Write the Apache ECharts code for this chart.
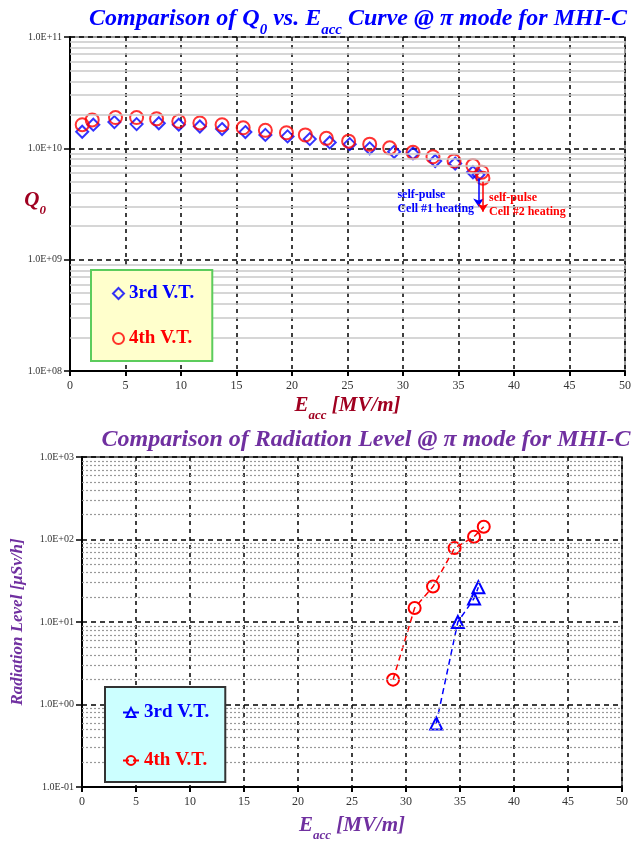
<!DOCTYPE html>
<html>
<head>
<meta charset="utf-8">
<script src="https://cdn.jsdelivr.net/npm/echarts@6/dist/echarts.min.js"></script>
<style>
  html, body { margin: 0; padding: 0; background: #fff; }
  #main { width: 643px; height: 843px; }
</style>
</head>
<body>
<div id="main"></div>
<script>
// Q0 vs Eacc  (3rd / 4th vertical test)
var eQ3 = [1.1, 2.1, 4.0, 6.0, 8.0, 9.8, 11.7, 13.7, 15.8, 17.6, 19.6, 21.6, 23.4, 25.2, 27.0, 29.2, 30.9, 32.9, 34.7, 36.3, 36.8];
var q3 = [1.41e10, 1.63e10, 1.72e10, 1.65e10, 1.68e10, 1.63e10, 1.57e10, 1.49e10, 1.40e10, 1.32e10, 1.28e10, 1.21e10, 1.13e10, 1.09e10, 1.00e10, 9.3e9, 9.0e9, 7.7e9, 7.3e9, 6.1e9, 5.8e9];
var eQ4 = [1.1, 2.0, 4.1, 6.0, 7.8, 9.8, 11.7, 13.7, 15.6, 17.6, 19.5, 21.2, 23.1, 25.1, 27.0, 28.8, 30.9, 32.7, 34.6, 36.3, 37.1, 37.2];
var q4 = [1.63e10, 1.80e10, 1.89e10, 1.89e10, 1.84e10, 1.75e10, 1.69e10, 1.63e10, 1.53e10, 1.45e10, 1.38e10, 1.32e10, 1.23e10, 1.16e10, 1.09e10, 1.01e10, 9.2e9, 8.4e9, 7.7e9, 7.0e9, 6.1e9, 5.4e9];

// radiation level vs Eacc
var eR3 = [32.8, 34.8, 36.3, 36.7];
var r3 = [0.59, 10.0, 19.3, 26.4];
var eR4 = [28.8, 30.8, 32.5, 34.5, 36.3, 37.2];
var r4 = [2.0, 14.8, 26.9, 78.7, 108, 143];

// axis ranges
var xTicks = [0, 50, 5];
var qRange = [1e8, 1e11];
var rRange = [1e-1, 1e3];
var minorSteps = [2, 3, 4, 5, 6, 7, 8, 9];

var serif = 'Liberation Serif';
var blue = '#0000ff', red = '#ff0000', darkRed = '#a00020', purple = '#7030a0';

function pairs(xs, ys) {
    return xs.map(function (x, i) { return [x, ys[i]]; });
}
function fmtE(v) {
    var e = Math.round(Math.log10(v));
    var a = Math.abs(e);
    return '1.0E' + (e < 0 ? '-' : '+') + (a < 10 ? '0' : '') + a;
}
function minorLines(range) {
    var out = [];
    for (var d = range[0]; d < range[1] * 0.99; d *= 10) {
        minorSteps.forEach(function (m) { out.push({ yAxis: d * m }); });
    }
    return out;
}

var chart = echarts.init(document.getElementById('main'));

function xAxisCfg(gi, nameColor, gap) {
    return {
        type: 'value', gridIndex: gi,
        min: xTicks[0], max: xTicks[1], interval: xTicks[2],
        name: '{m|E}{s|acc}{m| [MV/m]}',
        nameLocation: 'middle', nameGap: gap,
        nameTextStyle: {
            rich: {
                m: { fontFamily: serif, fontStyle: 'italic', fontWeight: 'bold', fontSize: 21, color: nameColor, padding: [0, 0, 6, 0] },
                s: { fontFamily: serif, fontStyle: 'italic', fontWeight: 'bold', fontSize: 13, color: nameColor, verticalAlign: 'bottom' }
            }
        },
        axisLine: { lineStyle: { color: '#000', width: 2 } },
        axisTick: { show: true, length: 5, lineStyle: { color: '#000', width: 2 } },
        axisLabel: { fontFamily: serif, fontSize: 12, color: '#333', margin: 9 },
        splitLine: { show: true, lineStyle: { color: '#000', type: [4, 4], width: 1.5 } }
    };
}

function yAxisCfg(gi, range, nameOpts) {
    return Object.assign({
        type: 'log', logBase: 10, gridIndex: gi,
        min: range[0], max: range[1],
        nameLocation: 'middle',
        axisLine: { lineStyle: { color: '#000', width: 2 } },
        axisTick: { show: true, length: 6, lineStyle: { color: '#000', width: 1.5 } },
        axisLabel: { fontFamily: serif, fontSize: 10, color: '#333', margin: 8, formatter: fmtE },
        splitLine: { show: true, lineStyle: { color: '#000', type: [5, 4], width: 1.5 } }
    }, nameOpts);
}

function hollow(color) {
    return { color: 'rgba(0,0,0,0)', borderColor: color, borderWidth: 2 };
}

var legendText = { q3: '3rd V.T.', q4: '4th V.T.', r3: '3rd V.T.', r4: '4th V.T.' };

var option = {
    animation: false,
    backgroundColor: '#fff',
    graphic: [
        {
            type: 'text', x: 358, y: 22,
            style: {
                text: '{m|Comparison of Q}{s|0}{m| vs. E}{s|acc}{m| Curve @ π mode for MHI-C}',
                align: 'center', verticalAlign: 'middle',
                rich: {
                    m: { fontFamily: serif, fontStyle: 'italic', fontWeight: 'bold', fontSize: 24, fill: blue, padding: [0, 0, 7, 0] },
                    s: { fontFamily: serif, fontStyle: 'italic', fontWeight: 'bold', fontSize: 15, fill: blue, verticalAlign: 'bottom' }
                }
            }
        },
        {
            type: 'text', x: 366, y: 440,
            style: {
                text: 'Comparison of Radiation Level @ π mode for MHI-C',
                align: 'center', verticalAlign: 'middle',
                font: 'italic bold 24px "Liberation Serif"', fill: purple
            }
        }
    ],
    grid: [
        { left: 70, top: 37, width: 555, height: 334, show: true, borderColor: '#777', borderWidth: 1.5 },
        { left: 82, top: 457, width: 540, height: 343, show: true, borderColor: '#333', borderWidth: 1.5 }
    ],
    legend: [
        {
            data: [
                { name: 'q3', textStyle: { color: blue } },
                { name: 'q4', textStyle: { color: red } }
            ],
            formatter: function (n) { return legendText[n]; },
            orient: 'vertical', left: 91, top: 270, z: 20,
            itemWidth: 11, itemHeight: 11, itemGap: 26,
            padding: [14, 18, 13, 21],
            backgroundColor: '#ffffcc', borderColor: '#5ccc5c', borderWidth: 2,
            textStyle: { fontFamily: serif, fontWeight: 'bold', fontSize: 19 },
            selectedMode: false
        },
        {
            data: [
                { name: 'r3', textStyle: { color: blue } },
                { name: 'r4', textStyle: { color: red } }
            ],
            formatter: function (n) { return legendText[n]; },
            orient: 'vertical', left: 105, top: 687, z: 20,
            itemWidth: 16, itemHeight: 11, itemGap: 29,
            padding: [16, 16, 12, 17],
            backgroundColor: '#ccffff', borderColor: '#333', borderWidth: 2,
            textStyle: { fontFamily: serif, fontWeight: 'bold', fontSize: 19 },
            selectedMode: false
        }
    ],
    xAxis: [xAxisCfg(0, darkRed, 24), xAxisCfg(1, purple, 28)],
    yAxis: [
        yAxisCfg(0, qRange, {
            name: '{m|Q}{s|0}', nameRotate: 0, nameGap: 24, nameMoveOverlap: false,
            nameTextStyle: {
                rich: {
                    m: { fontFamily: serif, fontStyle: 'italic', fontWeight: 'bold', fontSize: 21, color: darkRed, padding: [0, 0, 6, 0] },
                    s: { fontFamily: serif, fontStyle: 'italic', fontWeight: 'bold', fontSize: 13, color: darkRed, verticalAlign: 'bottom' }
                }
            }
        }),
        yAxisCfg(1, rRange, {
            name: 'Radiation Level [μSv/h]', nameRotate: 90, nameGap: 56,
            nameTextStyle: { fontFamily: serif, fontStyle: 'italic', fontWeight: 'bold', fontSize: 17, color: purple }
        })
    ],
    series: [
        // minor grid lines (2..9 of each decade)
        {
            type: 'line', xAxisIndex: 0, yAxisIndex: 0, data: [], z: 1, silent: true,
            markLine: {
                silent: true, symbol: 'none', label: { show: false },
                lineStyle: { color: '#c8c8c8', type: 'solid', width: 1.5 },
                data: minorLines(qRange)
            }
        },
        {
            type: 'line', xAxisIndex: 1, yAxisIndex: 1, data: [], z: 1, silent: true,
            markLine: {
                silent: true, symbol: 'none', label: { show: false },
                lineStyle: { color: '#999', type: [2, 2], width: 1.2 },
                data: minorLines(rRange)
            }
        },
        {
            name: 'q3', type: 'scatter', xAxisIndex: 0, yAxisIndex: 0, z: 3,
            symbol: 'diamond', symbolSize: 12,
            itemStyle: hollow(blue),
            data: pairs(eQ3, q3),
            markLine: {
                silent: true, symbol: ['none', 'arrow'], symbolSize: 8,
                label: { show: false },
                lineStyle: { color: blue, type: 'solid', width: 1.5 },
                data: [[{ coord: [36.8, 5.4e9] }, { coord: [36.8, 3.0e9] }]]
            },
            markPoint: {
                silent: true, symbol: 'circle', symbolSize: 0,
                data: [{
                    coord: [29.5, 3.3e9],
                    label: {
                        show: true, position: 'right', distance: 0, align: 'left',
                        formatter: 'self-pulse\nCell #1 heating',
                        fontFamily: serif, fontWeight: 'bold', fontSize: 12, lineHeight: 14, color: blue
                    }
                }]
            }
        },
        {
            name: 'q4', type: 'scatter', xAxisIndex: 0, yAxisIndex: 0, z: 4,
            symbol: 'circle', symbolSize: 13,
            itemStyle: hollow(red),
            data: pairs(eQ4, q4),
            markLine: {
                silent: true, symbol: ['none', 'arrow'], symbolSize: 8,
                label: { show: false },
                lineStyle: { color: red, type: 'solid', width: 1.5 },
                data: [[{ coord: [37.2, 5.0e9] }, { coord: [37.2, 2.7e9] }]]
            },
            markPoint: {
                silent: true, symbol: 'circle', symbolSize: 0,
                data: [{
                    coord: [37.75, 3.13e9],
                    label: {
                        show: true, position: 'right', distance: 0, align: 'left',
                        formatter: 'self-pulse\nCell #2 heating',
                        fontFamily: serif, fontWeight: 'bold', fontSize: 12, lineHeight: 14, color: red
                    }
                }]
            }
        },
        {
            name: 'r3', type: 'line', xAxisIndex: 1, yAxisIndex: 1, z: 3,
            symbol: 'triangle', symbolSize: 12, showAllSymbol: true,
            itemStyle: hollow(blue),
            lineStyle: { color: blue, type: [6, 4], width: 1.5 },
            data: pairs(eR3, r3)
        },
        {
            name: 'r4', type: 'line', xAxisIndex: 1, yAxisIndex: 1, z: 3,
            symbol: 'circle', symbolSize: 12, showAllSymbol: true,
            itemStyle: hollow(red),
            lineStyle: { color: red, type: [6, 4], width: 1.5 },
            data: pairs(eR4, r4)
        }
    ]
};

chart.setOption(option);
window.addEventListener('resize', function () {
    chart.resize();
});
</script>
</body>
</html>
